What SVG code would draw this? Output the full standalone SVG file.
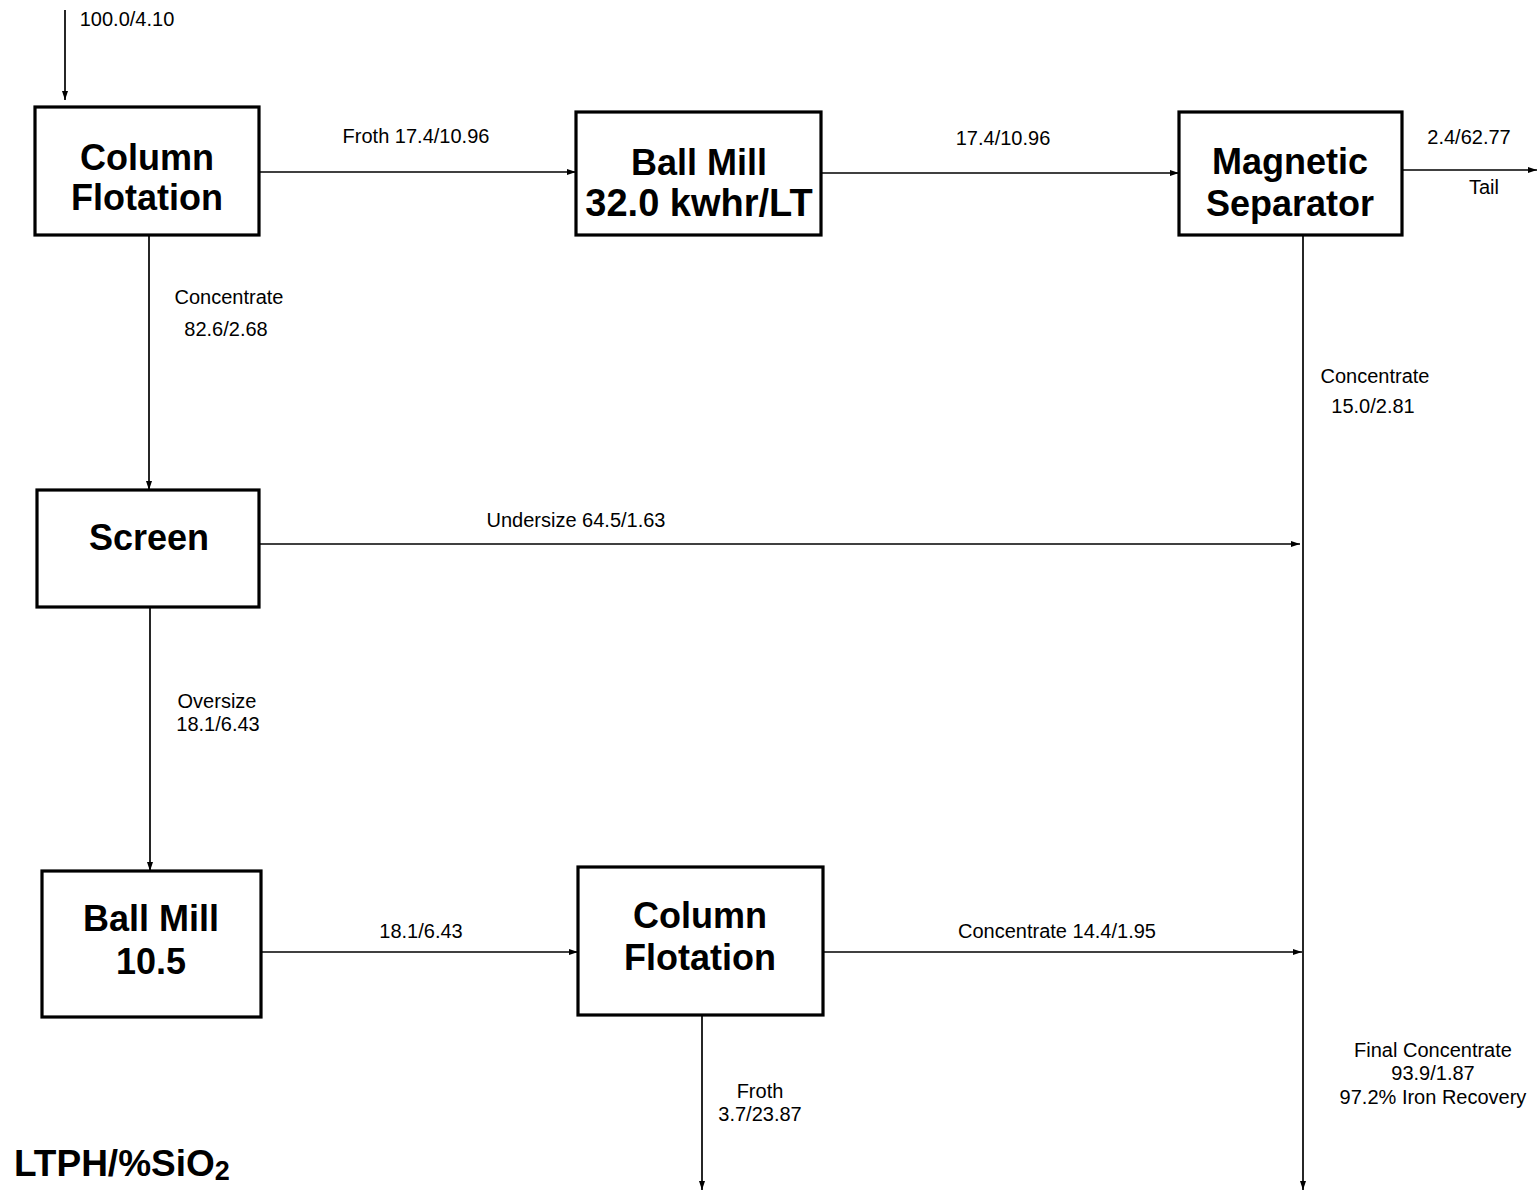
<svg xmlns="http://www.w3.org/2000/svg" width="1539" height="1192" viewBox="0 0 1539 1192">
<style>
.box{fill:#fff;stroke:#000;stroke-width:3.2}
.t{font-family:"Liberation Sans",Arial,sans-serif;font-weight:bold;font-size:36px;text-anchor:middle;fill:#000}
.l{font-family:"Liberation Sans",Arial,sans-serif;font-size:20px;text-anchor:middle;fill:#000}
.c{fill:none;stroke:#000;stroke-width:1.7}
</style>
<defs>
<marker id="ah" markerWidth="10" markerHeight="8" refX="9" refY="4" orient="auto" markerUnits="userSpaceOnUse">
<path d="M0,1 L9,4 L0,7 Z" fill="#000"/>
</marker>
</defs>
<rect width="1539" height="1192" fill="#fff"/>
<g id="connectors">
<line class="c" x1="65" y1="10" x2="65" y2="100" marker-end="url(#ah)"/>
<line class="c" x1="259" y1="172" x2="576" y2="172" marker-end="url(#ah)"/>
<line class="c" x1="821" y1="173" x2="1179" y2="173" marker-end="url(#ah)"/>
<line class="c" x1="1402" y1="170" x2="1537" y2="170" marker-end="url(#ah)"/>
<line class="c" x1="149" y1="235" x2="149" y2="490" marker-end="url(#ah)"/>
<line class="c" x1="1303" y1="235" x2="1303" y2="1190" marker-end="url(#ah)"/>
<line class="c" x1="259" y1="544" x2="1300" y2="544" marker-end="url(#ah)"/>
<line class="c" x1="150" y1="607" x2="150" y2="871" marker-end="url(#ah)"/>
<line class="c" x1="261" y1="952" x2="578" y2="952" marker-end="url(#ah)"/>
<line class="c" x1="823" y1="952" x2="1302" y2="952" marker-end="url(#ah)"/>
<line class="c" x1="702" y1="1015" x2="702" y2="1190" marker-end="url(#ah)"/>
</g>
<g id="labels">
<text class="l" x="127" y="26">100.0/4.10</text>
<text class="l" x="416" y="143">Froth 17.4/10.96</text>
<text class="l" x="1003" y="145">17.4/10.96</text>
<text class="l" x="1469" y="144">2.4/62.77</text>
<text class="l" x="1484" y="194">Tail</text>
<text class="l" x="229" y="304">Concentrate</text>
<text class="l" x="226" y="336">82.6/2.68</text>
<text class="l" x="1375" y="383">Concentrate</text>
<text class="l" x="1373" y="413">15.0/2.81</text>
<text class="l" x="576" y="527">Undersize 64.5/1.63</text>
<text class="l" x="217" y="708">Oversize</text>
<text class="l" x="218" y="731">18.1/6.43</text>
<text class="l" x="421" y="938">18.1/6.43</text>
<text class="l" x="1057" y="938">Concentrate 14.4/1.95</text>
<text class="l" x="760" y="1098">Froth</text>
<text class="l" x="760" y="1121">3.7/23.87</text>
<text class="l" x="1433" y="1057">Final Concentrate</text>
<text class="l" x="1433" y="1080">93.9/1.87</text>
<text class="l" x="1433" y="1104">97.2% Iron Recovery</text>
<text class="t" x="14" y="1176" style="text-anchor:start;font-size:37px">LTPH/%SiO<tspan font-size="27" dy="4">2</tspan></text>
</g>
<g id="column-flotation-1">
<rect class="box" x="35" y="107" width="224" height="128"/>
<text class="t" x="147" y="170">Column</text>
<text class="t" x="147" y="210">Flotation</text>
</g>
<g id="ball-mill-32">
<rect class="box" x="576" y="112" width="245" height="123"/>
<text class="t" x="699" y="175">Ball Mill</text>
<text class="t" x="699" y="216" style="font-size:38px">32.0 kwhr/LT</text>
</g>
<g id="magnetic-separator">
<rect class="box" x="1179" y="112" width="223" height="123"/>
<text class="t" x="1290" y="174">Magnetic</text>
<text class="t" x="1290" y="216">Separator</text>
</g>
<g id="screen">
<rect class="box" x="37" y="490" width="222" height="117"/>
<text class="t" x="149" y="550">Screen</text>
</g>
<g id="ball-mill-10-5">
<rect class="box" x="42" y="871" width="219" height="146"/>
<text class="t" x="151" y="931">Ball Mill</text>
<text class="t" x="151" y="974">10.5</text>
</g>
<g id="column-flotation-2">
<rect class="box" x="578" y="867" width="245" height="148"/>
<text class="t" x="700" y="928">Column</text>
<text class="t" x="700" y="970">Flotation</text>
</g>
</svg>
